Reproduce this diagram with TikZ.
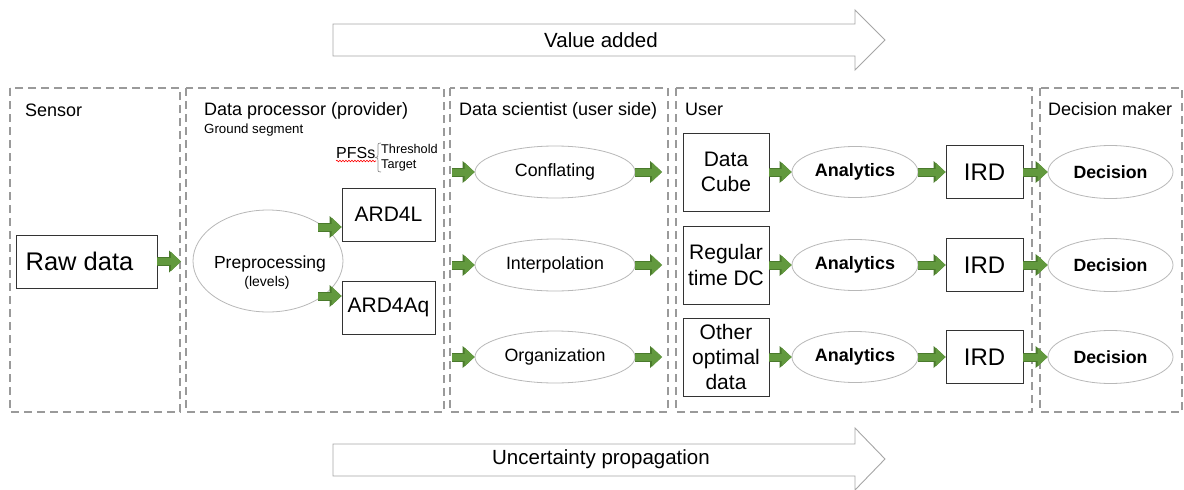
\documentclass[tikz,border=0pt]{standalone}
\usepackage{fontspec}
\setmainfont{Liberation Sans}
\usetikzlibrary{arrows.meta,shapes.geometric,decorations.pathreplacing,decorations.pathmorphing}

\definecolor{flowgreen}{HTML}{62993E}
\definecolor{flowgreendark}{HTML}{4A7A2C}
\definecolor{panelgray}{HTML}{9A9A9A}
\newcommand\fsz[1]{\fontsize{#1}{1.2\dimexpr #1pt\relax}\selectfont}

\begin{document}
\begin{tikzpicture}[x=1pt,y=-1pt,
  panel/.style={draw=panelgray, line width=2.2pt, dash pattern=on 8pt off 5pt},
  ptitle/.style={anchor=base west, inner sep=0pt, font=\fsz{18}},
  box/.style={draw=black!80, line width=0.9pt, fill=white, inner sep=0pt, align=center},
  oval/.style={ellipse, draw=black!28, line width=0.8pt, fill=white, inner sep=0pt, align=center},
  flow/.style={line width=7pt, draw=flowgreen,
    -{Triangle[length=10pt,width=19pt,line width=0pt]},
    preaction={draw=flowgreendark, line width=9pt,
      -{Triangle[length=12pt,width=22pt,line width=0pt]}}},
  bigarrow/.style={draw=black!35, line width=0.9pt, fill=white}
]
\useasboundingbox (0,0) rectangle (1184,490);

% ---- large block arrows (top and bottom) ----
\draw[bigarrow] (333,24) -- (855,24) -- (855,10) -- (885,40) -- (855,70) -- (855,56) -- (333,56) -- cycle;
\node[font=\fsz{20.5}] (valueadded) at (601,40) {Value added};
\draw[bigarrow] (333,444) -- (855,444) -- (855,428) -- (885,459) -- (855,490) -- (855,476) -- (333,476) -- cycle;
\node[font=\fsz{20.5}] (uncert) at (601,459) {Uncertainty propagation};

% ---- dashed panels ----
\draw[panel] (10,88) rectangle (180,412);
\draw[panel] (186,88) rectangle (444,412);
\draw[panel] (450,88) rectangle (668,412);
\draw[panel] (676,88) rectangle (1032,412);
\draw[panel] (1040,88) rectangle (1182,412);

\node[ptitle] (tsensor) at (25,116) {Sensor};
\node[ptitle] (tproc) at (204,115) {Data processor (provider)};
\node[ptitle, font=\fsz{13.3}] (tground) at (204,133) {Ground segment};
\node[ptitle] (tsci) at (459,115) {Data scientist (user side)};
\node[ptitle] (tuser) at (685,115) {User};
\node[ptitle] (tdec) at (1048,115) {Decision maker};

% ---- sensor ----
\node[box, minimum width=141pt, minimum height=53pt, font=\fsz{25.5}] (raw) at (86.5,261.5) {Raw data\hspace*{14pt}};
\coordinate (sensorout) at (181,261.5);
\draw[flow] (raw.east) -- (sensorout);

% ---- data processor ----
\node[oval, minimum width=150pt, minimum height=102pt] (prep) at (268,261) {};
\node[anchor=base, inner sep=0pt, font=\fsz{17.5}] (preptxt) at (270,268) {Preprocessing};
\node[anchor=base, inner sep=0pt, font=\fsz{14}] (levtxt) at (267,286) {(levels)};
\node[box, minimum width=93pt, minimum height=53pt, font=\fsz{21}] (ard4l) at (388.5,214.5) {ARD4L};
\node[box, minimum width=93pt, minimum height=53pt, font=\fsz{21}] (ard4aq) at (388.5,307.5) {ARD4Aq};
\coordinate (p1) at (318,227);
\coordinate (p2) at (318,296);
\draw[flow] (p1) -- (ard4l.west |- p1);
\draw[flow] (p2) -- (ard4aq.west |- p2);

\node[anchor=base west, inner sep=0pt, font=\fsz{16}] (pfs) at (336,158) {PFSs};
\draw[red, line width=0.6pt, decorate, decoration={snake, amplitude=0.8pt, segment length=3pt}]
  (pfs.base west) ++(0,3) -- ++(40,0);
\node[anchor=base west, inner sep=0pt, font=\fsz{12.7}] (thr) at (381,153) {Threshold};
\node[anchor=base west, inner sep=0pt, font=\fsz{12.7}] (tgt) at (381,168) {Target};
\draw[black!45, line width=0.7pt] (381,143) .. controls (378,143) .. (378,147) -- (378,154) .. controls (378,157) .. (375.5,157.5)
  .. controls (378,158) .. (378,161) -- (378,168) .. controls (378,172) .. (381,172);

% ---- data scientist ----
\foreach \name/\txt/\y in {conf/Conflating/172, interp/Interpolation/265, org/Organization/357}{
  \node[oval, minimum width=160pt, minimum height=52pt, font=\fsz{17.8}] (\name) at (555,\y) {\txt};
  \coordinate (\name in) at (452,\y);
  \coordinate (\name out) at (662,\y);
  \draw[flow] (\name in) -- (\name.west);
  \draw[flow] (\name.east) -- (\name out);
}

% ---- user and decision maker ----
\foreach \i/\txt/\y in {1/{Data\\Cube}/172, 2/{Regular\\time DC}/265, 3/{Other\\optimal\\data}/357}{
  \node[box, minimum width=86pt, minimum height=78pt, font=\fsz{21}] (src\i) at (726,\y) {\txt};
  \node[oval, minimum width=126pt, minimum height=51pt, font=\bfseries\fsz{18}] (ana\i) at (855,\y) {Analytics};
  \node[box, minimum width=77pt, minimum height=53pt, font=\fsz{24}] (ird\i) at (984.5,\y) {IRD};
  \node[oval, minimum width=125pt, minimum height=53pt, font=\bfseries\fsz{17.7}] (dec\i) at (1110.5,\y) {Decision};
  \draw[flow] (src\i.east) -- (ana\i.west);
  \draw[flow] (ana\i.east) -- (ird\i.west);
  \draw[flow] (ird\i.east) -- (dec\i.west);
}
\end{tikzpicture}
\end{document}
